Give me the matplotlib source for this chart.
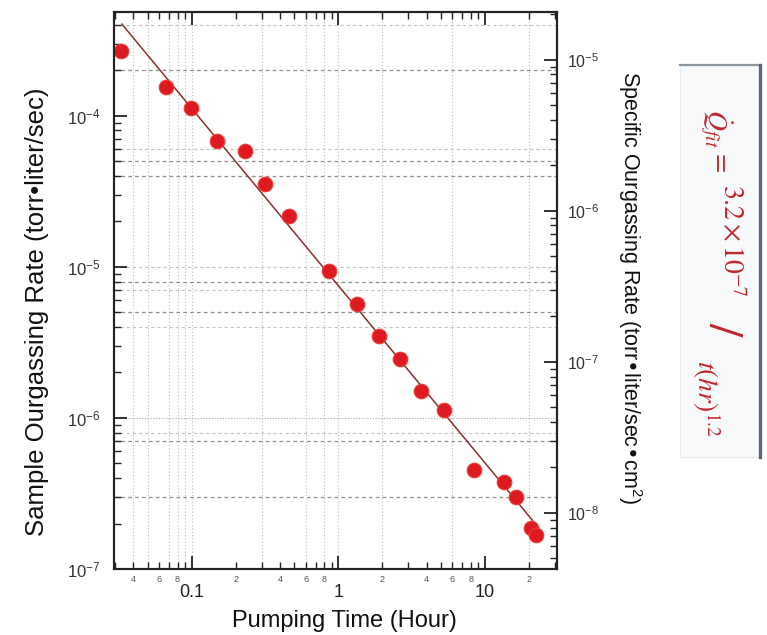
import matplotlib
matplotlib.use("Agg")
import matplotlib.pyplot as plt
from matplotlib.ticker import LogLocator, FuncFormatter, NullFormatter
from matplotlib.patches import Rectangle
from matplotlib.lines import Line2D
import numpy as np

plt.rcParams['font.family'] = ['Liberation Sans', 'DejaVu Sans']

# ---------------- data ----------------
time_hr = [0.0329, 0.0669, 0.0986, 0.148, 0.231, 0.316, 0.463, 0.864, 1.335,
           1.904, 2.634, 3.69, 5.27, 8.44, 13.54, 16.26, 20.48, 22.27]
rate = [2.69e-4, 1.56e-4, 1.12e-4, 6.8e-5, 5.86e-5, 3.52e-5, 2.17e-5, 9.37e-6,
        5.66e-6, 3.47e-6, 2.45e-6, 1.50e-6, 1.13e-6, 4.51e-7, 3.77e-7,
        3.01e-7, 1.86e-7, 1.67e-7]
fit_time = [0.0334, 21.1]
fit_rate = [4.05e-4, 2.1e-7]
sample_area_cm2 = 23.5
x_limits = (0.0295, 31.0)
y_limits = (1e-7, 4.87e-4)
grid_y_dark = [2e-4, 5e-5, 4e-5, 8e-6, 5e-6, 7e-7, 3e-7]
grid_y_light = [4e-4, 6e-5, 1e-5, 7e-6, 4e-6, 8e-7]
grid_y_dotted = [1e-6]
grid_x = [0.04, 0.05, 0.07, 0.08, 0.09, 0.1, 0.3, 0.6, 0.8, 1, 2, 6, 20]

W, H = 767, 635
fig = plt.figure(figsize=(W / 100, H / 100), dpi=100)
ax = fig.add_axes([114 / W, 1 - 569 / H, 443 / W, 557 / H])
ax.set_xscale('log')
ax.set_yscale('log')
ax.set_xlim(*x_limits)
ax.set_ylim(*y_limits)

# grid
for v in grid_x:
    ax.axvline(v, color='#bcbcbc', lw=0.8, ls=(0, (1, 2)), zorder=0.5)
for v in grid_y_dark:
    ax.axhline(v, color='#8f8f8f', lw=0.9, ls=(0, (3, 2.5)), zorder=0.5)
for v in grid_y_light:
    ax.axhline(v, color='#c4c4c4', lw=0.8, ls=(0, (3, 2.5)), zorder=0.5)
for v in grid_y_dotted:
    ax.axhline(v, color='#a8a8a8', lw=0.8, ls=(0, (1, 1.5)), zorder=0.5)

# data
ax.plot(fit_time, fit_rate, color='#8c3030', lw=1.1, zorder=2)
ax.plot(time_hr, rate, 'o', ms=10.5, color='#dc1a20', mec='#ee3a3a', mew=0.8, zorder=3)

# ticks
ax.xaxis.set_major_locator(LogLocator(base=10))
ax.xaxis.set_minor_locator(LogLocator(base=10, subs=np.arange(2, 10)))
ax.yaxis.set_major_locator(LogLocator(base=10))
ax.yaxis.set_minor_locator(LogLocator(base=10, subs=np.arange(2, 10)))


def xmajor(v, p):
    return f'{v:g}'


def xminor(v, p):
    e = np.floor(np.log10(v) + 1e-9)
    m = int(round(v / 10 ** e))
    return str(m) if m in (2, 4, 6, 8) else ''


def ymajor(v, p):
    e = int(round(np.log10(v)))
    return r'$\mathregular{10^{%d}}$' % e


ax.xaxis.set_major_formatter(FuncFormatter(xmajor))
ax.xaxis.set_minor_formatter(FuncFormatter(xminor))
ax.yaxis.set_major_formatter(FuncFormatter(ymajor))
ax.yaxis.set_minor_formatter(NullFormatter())

ax.tick_params(which='both', direction='in', top=True, bottom=True, left=True,
               right=False, color='#222222')
ax.tick_params(which='major', length=9.5, width=1.3)
ax.tick_params(which='minor', length=5, width=1.0)
ax.tick_params(axis='x', which='major', labelsize=13, pad=11, labelcolor='#222222')
ax.tick_params(axis='x', which='minor', labelsize=6.5, pad=4, labelcolor='#555555')
ax.tick_params(axis='y', which='major', labelsize=12, pad=10, labelcolor='#333333')

for s in ax.spines.values():
    s.set_linewidth(1.5)
    s.set_color('#222222')

# right axis (specific rate)
ax2 = ax.twinx()
ax2.set_yscale('log')
ax2.set_ylim(y_limits[0] / sample_area_cm2, y_limits[1] / sample_area_cm2)
ax2.yaxis.set_major_locator(LogLocator(base=10))
ax2.yaxis.set_minor_locator(LogLocator(base=10, subs=np.arange(2, 10)))
ax2.yaxis.set_major_formatter(FuncFormatter(ymajor))
ax2.yaxis.set_minor_formatter(NullFormatter())
ax2.tick_params(which='both', direction='in', color='#222222')
ax2.tick_params(which='major', length=9.5, width=1.3, labelsize=11.5, pad=7,
                labelcolor='#333333')
ax2.tick_params(which='minor', length=5, width=1.0)
for s in ax2.spines.values():
    s.set_linewidth(1.5)
    s.set_color('#222222')

# labels
ax.set_xlabel('Pumping Time (Hour)', fontsize=17, color='#111111')
ax.xaxis.set_label_coords(0.520, -0.0934)
ax.xaxis.label.set_va('center')
ax.set_ylabel('Sample Ourgassing Rate (torr•liter/sec)', fontsize=18.5, color='#111111')
ax.yaxis.set_label_coords(-0.174, 0.461)
ax.yaxis.label.set_va('center')
ax2.set_ylabel(r'Specific Ourgassing Rate (torr•liter/sec•cm$^{\mathregular{2}}$)',
               rotation=-90, fontsize=15.5, color='#111111')
ax2.yaxis.set_label_coords(1.165, 0.506)
ax2.yaxis.label.set_va('center')

# equation box
fig.patches.append(Rectangle((680 / W, 1 - 457 / H), 80 / W, 392 / H,
                             transform=fig.transFigure, facecolor='#f7f9fb',
                             edgecolor='#e4e8ec', lw=0.6, zorder=0))
fig.lines.append(Line2D([680 / W, 760 / W], [1 - 65 / H, 1 - 65 / H],
                        transform=fig.transFigure, color='#8a96a0', lw=1.6))
fig.lines.append(Line2D([760 / W, 760 / W], [1 - 65 / H, 1 - 457 / H],
                        transform=fig.transFigure, color='#5c6873', lw=2.4))

eq_color = '#c0272d'
eq_kw = dict(rotation=-90, ha='center', va='center', color=eq_color,
             math_fontfamily='stix', family='DejaVu Serif')
fig.text(716 / W, 1 - 129 / H, r'$\dot{Q}_{fit}$', fontsize=20, **eq_kw)
fig.text(723 / W, 1 - 160 / H, r'$=$', fontsize=20, **eq_kw)
fig.text(730 / W, 1 - 240 / H, r'$3.2\times10^{-7}$', fontsize=20, **eq_kw)
fig.text(722 / W, 1 - 330 / H, r'$/$', fontsize=34, **eq_kw)
fig.text(706 / W, 1 - 399 / H, r'$t(hr)^{1.2}$', fontsize=20, **eq_kw)

fig.savefig('out.png', dpi=100)
